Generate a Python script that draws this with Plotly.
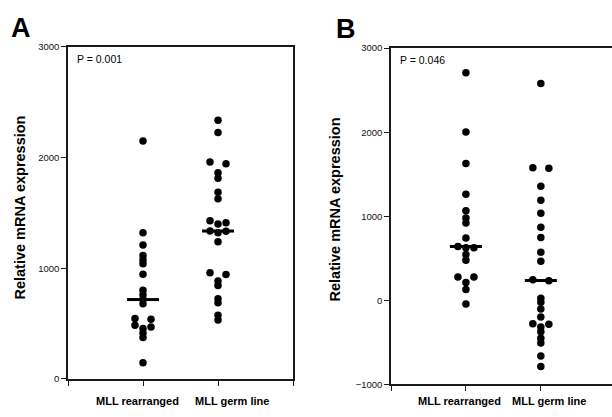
import plotly.graph_objects as go

# ---------------- data ----------------
categories = ["MLL rearranged", "MLL germ line"]
a_rearranged = [2150, 1320, 1210, 1115, 1075, 1040, 945, 800, 760, 720, 680,
                545, 540, 485, 468, 455, 415, 375, 145]
a_germline = [2337, 2226, 1960, 1945, 1862, 1812, 1686, 1627, 1430, 1410, 1400,
              1336, 1335, 1320, 1239, 958, 943, 884, 845, 725, 688, 576, 532]
b_rearranged = [2707, 2003, 1628, 1261, 1064, 978, 920, 740, 640, 625, 625,
                545, 476, 275, 275, 212, 128, -46]
b_germline = [2580, 1578, 1570, 1357, 1191, 1036, 870, 746, 572, 464, 245, 232,
              25, -25, -104, -200, -280, -285, -320, -375, -452, -510, -665, -789]
a_medians = [717, 1336]
b_medians = [638, 236]
p_labels = ["P = 0.001", "P = 0.046"]
panel_labels = ["A", "B"]
a_yticks = [0, 1000, 2000, 3000]
b_yticks = [-1000, 0, 1000, 2000, 3000]
y_title = "Relative mRNA expression"

# ---------------- layout constants (pixels) ----------------
W, H = 612, 417
FONT = "Liberation Sans, Arial, Helvetica, sans-serif"
LINE = "#1a1a1a"


def px_x(x):
    return x / W


def px_y(y):
    return 1 - y / H


A_X = (68, 293)
A_Y = (42, 383)
A_XR = [-1, 2]
A_YR = [0, 3000]
B_X = (391, 612)
B_Y = (43.3, 388.5)
B_XR = [-1, 1.95]
B_YR = [-1000, 3000]


def swarm(values, px_per_unit, step, thresh=3.8):
    """Prism-like column scatter: near-equal values share a row and are spread sideways."""
    order = sorted(range(len(values)), key=lambda i: -values[i])
    offs = [0.0] * len(values)
    rows = []
    for i in order:
        if rows and len(rows[-1]) < 3 and abs(values[rows[-1][0]] - values[i]) * px_per_unit < thresh:
            rows[-1].append(i)
        else:
            rows.append([i])
    pattern = {1: [0], 2: [-1, 1], 3: [-1, 1, 0]}
    for r in rows:
        for k, i in enumerate(r):
            offs[i] = pattern[len(r)][k] * step
    return offs


fig = go.Figure()

panels = [
    ("x", "y", [a_rearranged, a_germline], a_medians, A_X, A_Y, A_XR, A_YR),
    ("x2", "y2", [b_rearranged, b_germline], b_medians, B_X, B_Y, B_XR, B_YR),
]

for xa, ya, groups, meds, PX, PY, XR, YR in panels:
    ppu_y = (PY[1] - PY[0]) / (YR[1] - YR[0])
    ppu_x = (PX[1] - PX[0]) / (XR[1] - XR[0])
    step = 8 / ppu_x
    for ci, vals in enumerate(groups):
        offs = swarm(vals, ppu_y, step)
        fig.add_trace(go.Scatter(
            x=[ci + o for o in offs], y=vals, mode="markers",
            marker=dict(size=7.5, color="black", line=dict(width=0)),
            xaxis=xa, yaxis=ya, showlegend=False, hoverinfo="y"))
        half = 16 / ppu_x
        fig.add_trace(go.Scatter(
            x=[ci - half, ci + half], y=[meds[ci], meds[ci]], mode="lines",
            line=dict(color="black", width=3),
            xaxis=xa, yaxis=ya, showlegend=False, hoverinfo="skip"))

axis_common = dict(showgrid=False, zeroline=False, showline=True, linecolor=LINE,
                   linewidth=1.5, ticks="outside", ticklen=5, tickwidth=1.2,
                   tickcolor=LINE, fixedrange=True)
tick_font = dict(size=9.5, family=FONT, color="#111111")

fig.update_layout(
    width=W, height=H, margin=dict(l=0, r=0, t=0, b=0, pad=0),
    autosize=False,
    paper_bgcolor="white", plot_bgcolor="white",
    font=dict(family=FONT, color="black"),
    xaxis=dict(domain=[px_x(A_X[0]), px_x(A_X[1])], range=A_XR, mirror=True,
               tickvals=[-1, 0, 1, 2], ticktext=["", "", "", ""], anchor="y",
               **axis_common),
    yaxis=dict(domain=[px_y(A_Y[1]), px_y(A_Y[0])], range=A_YR, mirror=True,
               tickvals=a_yticks, tickfont=tick_font, anchor="x",
               **axis_common),
    xaxis2=dict(domain=[px_x(B_X[0]), px_x(B_X[1])], range=B_XR, mirror=True,
                tickvals=[-1, 0, 1], ticktext=["", "", ""], anchor="y2",
                **axis_common),
    yaxis2=dict(domain=[px_y(B_Y[1]), px_y(B_Y[0])], range=B_YR, mirror=False,
                tickvals=b_yticks, tickfont=tick_font, anchor="x2",
                **axis_common),
)

ann = []
# panel letters
for lab, (x, y) in zip(panel_labels, [(9, 23), (334, 24)]):
    ann.append(dict(text=f"<b>{lab}</b>", x=px_x(x), y=px_y(y), xref="paper", yref="paper",
                    xanchor="left", yanchor="middle", showarrow=False,
                    font=dict(size=27, family=FONT, color="black")))
# p values
for lab, (x, y) in zip(p_labels, [(75, 54), (398, 55)]):
    ann.append(dict(text=lab, x=px_x(x), y=px_y(y), xref="paper", yref="paper",
                    xanchor="left", yanchor="middle", showarrow=False,
                    font=dict(size=10.5, family=FONT, color="black")))
# y titles
for (x, y) in [(20, 207), (335, 209)]:
    ann.append(dict(text=f"<b>{y_title}</b>", x=px_x(x), y=px_y(y), xref="paper", yref="paper",
                    xanchor="center", yanchor="middle", textangle=-90, showarrow=False,
                    font=dict(size=14.5, family=FONT, color="black")))
# category labels
for centers in [(137, 232), (459, 549)]:
    for cat, cx in zip(categories, centers):
        ann.append(dict(text=f"<b>{cat}</b>", x=px_x(cx), y=px_y(406), xref="paper", yref="paper",
                        xanchor="center", yanchor="middle", showarrow=False,
                        font=dict(size=11, family=FONT, color="black")))
fig.update_layout(annotations=ann)

page_fix = (
    "document.documentElement.style.margin='0';"
    "document.body.style.margin='0';"
    "document.body.style.padding='0';"
)

fig.write_html("out.html", config={"responsive": False, "displayModeBar": False},
               post_script=page_fix)
